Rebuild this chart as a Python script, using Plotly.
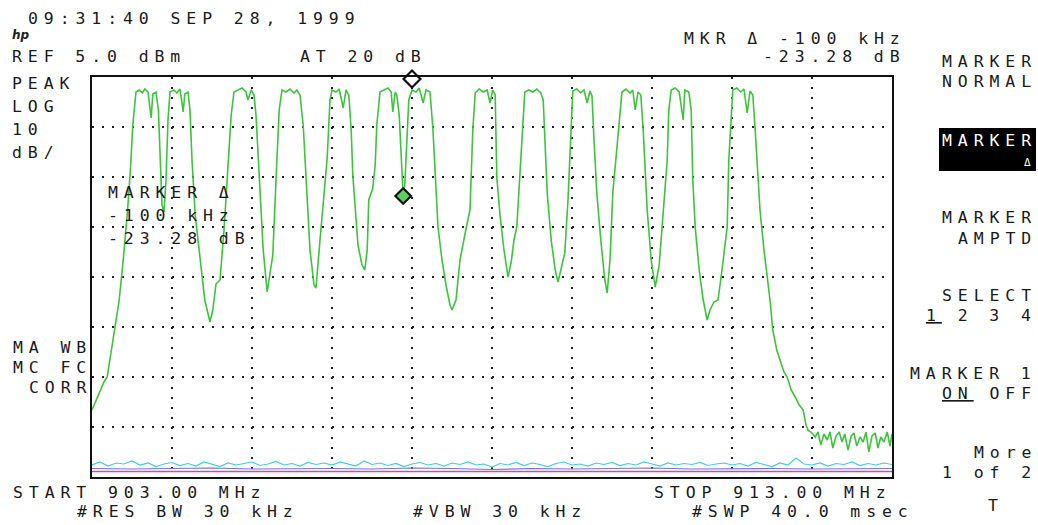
import numpy as np
import plotly.graph_objects as go

# ---------------- data ----------------
# Green trace (peak hold spectrum), frequency in MHz, amplitude in dBm
trace_freq = [
    903.00, 903.05, 903.10, 903.15, 903.19, 903.24, 903.29, 903.34, 903.39, 903.44,
    903.48, 903.51, 903.55, 903.59, 903.63, 903.66, 903.70, 903.74, 903.76, 903.80,
    903.83, 903.85, 903.875, 903.90, 903.925, 903.95, 903.975, 904.025, 904.06, 904.10,
    904.14, 904.16, 904.20, 904.225, 904.25, 904.29, 904.35, 904.41, 904.475, 904.51,
    904.55, 904.60, 904.65, 904.70, 904.74, 904.775, 904.825, 904.875, 904.925, 904.95,
    904.99, 905.025, 905.05, 905.09, 905.14, 905.19, 905.225, 905.26, 905.30, 905.34,
    905.375, 905.425, 905.475, 905.525, 905.56, 905.60, 905.64, 905.675, 905.725, 905.775,
    905.80, 905.85, 905.90, 905.94, 905.975, 906.00, 906.05, 906.09, 906.14, 906.175,
    906.21, 906.24, 906.26, 906.325, 906.375, 906.41, 906.44, 906.46, 906.51, 906.54,
    906.56, 906.60, 906.65, 906.70, 906.74, 906.76, 906.79, 906.81, 906.84, 906.86,
    906.89, 906.91, 906.94, 906.96, 907.00, 907.05, 907.09, 907.14, 907.175, 907.225,
    907.26, 907.30, 907.325, 907.375, 907.425, 907.475, 907.50, 907.55, 907.60, 907.66,
    907.725, 907.76, 907.79, 907.84, 907.89, 907.94, 907.975, 908.01, 908.04, 908.06,
    908.10, 908.15, 908.20, 908.24, 908.275, 908.31, 908.35, 908.39, 908.41, 908.46,
    908.51, 908.56, 908.61, 908.64, 908.66, 908.69, 908.74, 908.79, 908.825, 908.86,
    908.91, 908.95, 908.99, 909.01, 909.06, 909.11, 909.15, 909.19, 909.225, 909.25,
    909.275, 909.31, 909.36, 909.41, 909.44, 909.475, 909.51, 909.55, 909.59, 909.625,
    909.675, 909.725, 909.76, 909.79, 909.825, 909.86, 909.89, 909.94, 909.99, 910.04,
    910.09, 910.14, 910.19, 910.21, 910.24, 910.29, 910.34, 910.39, 910.41, 910.46,
    910.49, 910.51, 910.54, 910.59, 910.64, 910.69, 910.725, 910.775, 910.825, 910.875,
    910.94, 910.96, 910.99, 911.01, 911.06, 911.11, 911.15, 911.19, 911.225, 911.26,
    911.29, 911.31, 911.35, 911.40, 911.44, 911.475, 911.51, 911.56, 911.60, 911.65,
    911.69, 911.74, 911.79, 911.84, 911.89, 911.925, 911.95, 912.00, 912.04, 912.075,
    912.11, 912.15, 912.19, 912.225, 912.26, 912.30, 912.34, 912.375, 912.41, 912.45,
    912.49, 912.525, 912.56, 912.60, 912.64, 912.675, 912.71, 912.75, 912.79, 912.825,
    912.86, 912.90, 912.94, 912.975, 913.00,
]
trace_dbm = [
    -61.6, -59.6, -58.0, -56.0, -55.0, -49.6, -45.0, -39.6, -31.6, -22.6,
    -13.6, -4.6, 2.0, 2.4, 1.8, 2.6, 2.0, -3.2, 1.6, 2.0,
    -1.6, -11.6, -20.6, -22.0, -15.6, -3.6, 2.0, 2.4, 1.8, 2.6,
    -2.0, 1.6, 2.0, -1.6, -11.6, -22.6, -31.6, -39.6, -44.0, -41.6,
    -36.4, -35.6, -25.6, -11.6, -2.6, 2.0, 2.4, 2.8, 2.0, 0.4,
    2.4, 1.4, -2.6, -15.6, -29.6, -38.0, -34.6, -30.6, -15.6, -1.6,
    2.4, 2.0, 2.6, 1.8, 2.4, 1.4, -4.6, -15.6, -29.6, -36.6,
    -37.2, -27.6, -17.6, -11.2, 0.4, 2.4, 2.0, 2.6, -1.2, 2.4,
    1.4, -5.6, -14.6, -28.6, -32.6, -33.6, -29.6, -19.6, -17.2, -12.6,
    -4.6, 2.0, 2.4, 2.8, 2.0, -2.0, 2.0, 1.4, -2.6, -9.6,
    -18.8, -16.6, -7.6, 0.4, 2.4, 2.0, 2.8, -0.2, 2.4, 2.0,
    -5.0, -17.6, -25.0, -31.6, -36.6, -40.6, -41.6, -39.6, -31.6, -26.6,
    -21.6, -5.6, 1.8, 2.6, 2.0, 2.4, -0.2, 2.4, 1.4, -15.0,
    -22.6, -29.6, -35.0, -32.0, -27.6, -25.0, -13.6, -1.6, 2.0, 2.4,
    2.0, 2.6, 1.8, 0.4, -7.6, -18.2, -27.6, -33.6, -36.0, -33.6,
    -30.2, -19.6, -3.6, 2.2, 2.6, 1.8, 2.4, -0.2, 2.2, 1.2,
    -7.6, -18.2, -27.6, -35.6, -38.2, -31.6, -18.2, -11.6, -3.6, 2.0,
    2.6, 1.8, 2.4, -1.6, 2.0, 1.4, -5.6, -21.6, -31.6, -37.0,
    -32.6, -21.6, -11.6, -1.6, 2.4, 2.8, 2.0, -3.6, 2.4, 2.0,
    -1.6, -15.6, -25.0, -33.6, -39.6, -43.6, -41.6, -40.0, -39.6, -33.6,
    -25.0, -11.6, -1.6, 2.4, 2.8, 2.0, 2.6, -2.2, 2.2, 1.4,
    -5.6, -11.6, -21.6, -29.6, -35.0, -39.6, -45.6, -49.6, -51.6, -54.0,
    -55.0, -57.6, -59.0, -60.6, -61.6, -64.6, -65.6, -66.2, -67.0, -66.0,
    -68.6, -66.4, -67.6, -66.0, -69.2, -66.8, -66.0, -68.0, -66.4, -69.6,
    -66.8, -66.2, -68.8, -67.0, -68.0, -66.0, -70.0, -66.8, -66.2, -69.2,
    -67.0, -68.0, -66.0, -68.8, -66.4,
]

# Cyan trace (noise floor), one value per 0.1 MHz from 903 to 913 MHz
cyan_dbm = [
    -72.6, -72.0, -72.8, -72.2, -72.4, -71.8, -72.6, -72.2, -72.9, -72.4,
    -72.1, -72.7, -72.3, -72.8, -72.0, -72.5, -72.9, -72.2, -72.6, -72.3,
    -72.0, -72.7, -72.4, -71.9, -72.6, -72.3, -72.8, -72.1, -72.5, -72.2,
    -72.6, -72.0, -72.4, -72.8, -71.8, -72.5, -72.2, -72.7, -72.3, -72.9,
    -72.4, -72.1, -72.6, -72.3, -72.8, -72.2, -72.5, -72.0, -72.6, -72.4,
    -73.0, -72.3, -72.6, -72.1, -72.7, -72.2, -72.5, -72.9, -72.3, -72.0,
    -72.6, -72.4, -72.8, -72.2, -72.5, -72.1, -72.7, -72.3, -72.6, -72.0,
    -72.4, -72.8, -72.2, -72.6, -72.3, -72.5, -72.1, -72.7, -72.4, -72.2,
    -72.6, -72.3, -72.8, -72.1, -72.5, -72.9, -72.2, -72.6, -71.2, -72.4,
    -72.6, -72.2, -72.8, -72.3, -72.5, -72.0, -72.7, -72.3, -72.6, -72.2, -72.5,
]
# Blue trace, one value per 0.5 MHz
blue_dbm = [-73.3, -73.4, -73.3, -73.2, -73.4, -73.3, -73.3, -73.4, -73.2, -73.3,
            -73.5, -73.3, -73.4, -73.3, -73.2, -73.4, -73.3, -73.3, -73.4, -73.3, -73.3]
# Magenta trace (flat)
magenta_freq = [903.0, 913.0]
magenta_dbm = [-73.9, -73.9]

# Markers
ref_marker_freq = [907.00]
ref_marker_dbm = [4.6]
delta_marker_freq = [906.89]
delta_marker_dbm = [-18.8]

# Screen settings
start_mhz, stop_mhz = 903.0, 913.0
ref_dbm, db_per_div, n_div = 5.0, 10.0, 8

cyan_freq = np.linspace(start_mhz, stop_mhz, len(cyan_dbm))
blue_freq = np.linspace(start_mhz, stop_mhz, len(blue_dbm))

# ---------------- figure ----------------
W, H = 1038, 525
L, R, T, B = 92, 892, 77, 477

fig = go.Figure()
fig.add_trace(go.Scatter(x=magenta_freq, y=magenta_dbm, mode="lines",
                         line=dict(color="#d24aa8", width=1.6), hoverinfo="skip"))
fig.add_trace(go.Scatter(x=blue_freq, y=blue_dbm, mode="lines",
                         line=dict(color="#6b72e6", width=1.2), hoverinfo="skip"))
fig.add_trace(go.Scatter(x=cyan_freq, y=cyan_dbm, mode="lines",
                         line=dict(color="#3fd0dc", width=1.2), hoverinfo="skip"))
fig.add_trace(go.Scatter(x=trace_freq, y=trace_dbm, mode="lines",
                         line=dict(color="#3cc43c", width=1.6), hoverinfo="skip"))
fig.add_trace(go.Scatter(x=ref_marker_freq, y=ref_marker_dbm, mode="markers",
                         marker=dict(symbol="diamond", size=13, color="white",
                                     line=dict(color="#111", width=2.2)),
                         cliponaxis=False, hoverinfo="skip"))
fig.add_trace(go.Scatter(x=delta_marker_freq, y=delta_marker_dbm, mode="markers",
                         marker=dict(symbol="diamond", size=12, color="#5fcf5f",
                                     line=dict(color="#111", width=2.2)),
                         cliponaxis=False, hoverinfo="skip"))


def px(x):
    return (x - L) / (R - L)


def py(y):
    return (B - y) / (B - T)


FONT = "DejaVu Sans Mono"
SP = 5.9
ann = []


def txt(s, x, y, anchor="left", size=16.5, color="#1a1a1a", spacing=SP):
    if anchor == "right":
        x = x + spacing
    ann.append(dict(text=f'<span style="letter-spacing:{spacing}px">{s}</span>',
                    x=px(x), y=py(y), xref="paper", yref="paper",
                    xanchor=anchor, yanchor="middle", showarrow=False,
                    font=dict(family=FONT, size=size, color=color)))


# top
txt("09:31:40 SEP 28, 1999", 26, 19)
ann.append(dict(text="<i><b>hp</b></i>", x=px(10), y=py(35), xref="paper", yref="paper",
                xanchor="left", yanchor="middle", showarrow=False,
                font=dict(family="DejaVu Sans", size=12, color="#222")))
txt("REF 5.0 dBm", 10, 56)
txt("AT 20 dB", 298, 56)
txt("MKR Δ -100 kHz", 902, 38, "right")
txt("-23.28 dB", 902, 57, "right")
# left
txt("PEAK", 10, 83)
txt("LOG", 10, 107)
txt("10", 10, 129)
txt("dB/", 10, 152)
txt("MA WB", 88, 347, "right")
txt("MC FC", 88, 367, "right")
txt("CORR", 88, 387, "right")
# inside
txt("MARKER Δ", 106, 192)
txt("-100 kHz", 106, 215)
txt("-23.28 dB", 106, 238)
# bottom
txt("START 903.00 MHz", 11, 492)
txt("#RES BW 30 kHz", 75, 512)
txt("#VBW 30 kHz", 411, 512)
txt("STOP 913.00 MHz", 888, 492, "right")
txt("#SWP 40.0 msec", 910, 512, "right")
# softkeys
txt("MARKER", 1033, 62, "right")
txt("NORMAL", 1033, 82, "right")
txt("MARKER", 1033, 140, "right", color="white")
txt("Δ", 1033, 162, "right", size=11, color="white", spacing=0)
txt("MARKER", 1033, 217, "right")
txt("AMPTD", 1033, 238, "right")
txt("SELECT", 1033, 295, "right")
txt("<u>1</u> 2 3 4", 1033, 315, "right")
txt("MARKER 1", 1033, 373, "right")
txt("<u>ON</u> OFF", 1033, 393, "right")
txt("More", 1033, 452, "right")
txt("1 of 2", 1033, 472, "right")
txt("T", 1000, 505, "right")

shapes = [dict(type="rect", xref="paper", yref="paper", layer="below",
               x0=px(939), x1=px(1036), y0=py(171), y1=py(128),
               fillcolor="black", line=dict(width=0))]

axis_common = dict(showgrid=True, gridcolor="#222", griddash="2px,8px", gridwidth=1.5,
                   showticklabels=False, ticks="", zeroline=False, showline=True,
                   mirror=True, linecolor="#111", linewidth=2, fixedrange=True)

fig.update_layout(
    width=W, height=H,
    margin=dict(l=L, r=W - R, t=T, b=H - B, pad=0),
    paper_bgcolor="white", plot_bgcolor="white",
    showlegend=False,
    xaxis=dict(range=[start_mhz, stop_mhz], tick0=start_mhz, dtick=(stop_mhz - start_mhz) / 10,
               **axis_common),
    yaxis=dict(range=[ref_dbm - db_per_div * n_div, ref_dbm], tick0=ref_dbm, dtick=db_per_div,
               **axis_common),
    annotations=ann,
    shapes=shapes,
)

fig.write_html(
    "out.html",
    config={"displayModeBar": False, "staticPlot": True},
    post_script="document.documentElement.style.margin='0';"
                "document.body.style.margin='0';document.body.style.overflow='hidden';",
)
